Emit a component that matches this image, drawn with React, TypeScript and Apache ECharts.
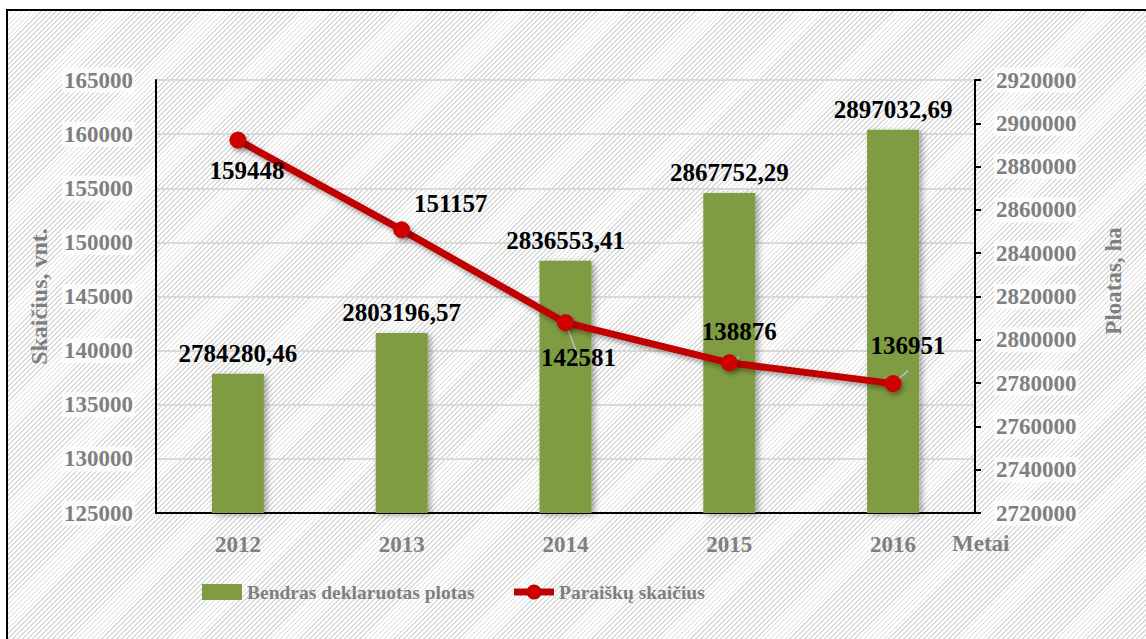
import React, { useEffect, useRef } from "react";
import * as echarts from "echarts";

const years = ["2012", "2013", "2014", "2015", "2016"];
const areaValues = [2784280.46, 2803196.57, 2836553.41, 2867752.29, 2897032.69];
const countValues = [159448, 151157, 142581, 138876, 136951];
const areaLabels = ["2784280,46", "2803196,57", "2836553,41", "2867752,29", "2897032,69"];
const countLabelOffsets: [string, number, number, boolean][] = [
  ["bottom", 9, 4, false],
  ["top", 49, 0, false],
  ["bottom", 13, 9, true],
  ["top", 10, -5, true],
  ["top", 15, -12, true],
];

const FONT = '"Liberation Serif", "Times New Roman", serif';
const GRAY = "#7f7f7f";

export default function App() {
  const ref = useRef<HTMLDivElement>(null);

  useEffect(() => {
    if (!ref.current) return;
    const chart = echarts.init(ref.current, undefined, { renderer: "svg" });
    const labelBg = "rgba(255,255,255,0.75)";
    chart.setOption({
      animation: false,
      backgroundColor: "transparent",
      textStyle: { fontFamily: FONT },
      grid: { left: 156, right: 171, top: 80, bottom: 126, containLabel: false },
      legend: {
        left: 197,
        top: 577,
        itemWidth: 40,
        itemHeight: 16,
        itemGap: 36,
        textStyle: { fontFamily: FONT, fontWeight: "bold", fontSize: 19.5, color: GRAY },
        data: [
          { name: "Bendras deklaruotas plotas", icon: "rect", itemStyle: { shadowBlur: 0, shadowOffsetX: 0, shadowOffsetY: 0 } },
          { name: "Paraiškų skaičius", lineStyle: { width: 7, shadowBlur: 0, shadowOffsetX: 0, shadowOffsetY: 0 } },
        ],
      },
      xAxis: {
        type: "category",
        data: years,
        axisLine: { lineStyle: { color: "#000", width: 2 } },
        axisTick: { show: false },
        axisLabel: {
          color: GRAY,
          fontFamily: FONT,
          fontWeight: "bold",
          fontSize: 23,
          margin: 20,
        },
      },
      yAxis: [
        {
          type: "value",
          min: 125000,
          max: 165000,
          interval: 5000,
          position: "left",
          name: "Skaičius, vnt.",
          nameLocation: "middle",
          nameRotate: 90,
          nameGap: 104,
          nameTextStyle: { color: GRAY, fontFamily: FONT, fontWeight: "bold", fontSize: 24 },
          axisLine: { show: true, lineStyle: { color: "#000", width: 2 } },
          axisTick: { show: false },
          splitLine: { show: true, lineStyle: { color: "#d9d9d9", width: 2 } },
          axisLabel: {
            color: GRAY,
            fontFamily: FONT,
            fontWeight: "bold",
            fontSize: 23,
            margin: 21,
            formatter: (v: number) => String(v),
            backgroundColor: labelBg,
            padding: [1, 2],
          },
        },
        {
          type: "value",
          min: 2720000,
          max: 2920000,
          interval: 20000,
          position: "right",
          axisLine: { show: true, lineStyle: { color: "#000", width: 2 } },
          axisTick: { show: true, length: 6, lineStyle: { color: "#000", width: 2 } },
          splitLine: { show: false },
          axisLabel: {
            color: GRAY,
            fontFamily: FONT,
            fontWeight: "bold",
            fontSize: 23,
            margin: 19,
            formatter: (v: number) => String(v),
            backgroundColor: labelBg,
            padding: [1, 2],
          },
        },
      ],
      graphic: [
        {
          type: "text",
          left: 952,
          top: 532,
          style: {
            text: "Metai",
            fill: GRAY,
            font: `bold 23px ${FONT}`,
          },
        },
        {
          type: "text",
          x: 1113,
          y: 281,
          rotation: Math.PI / 2,
          style: {
            text: "Ploatas, ha",
            fill: GRAY,
            font: `bold 23px ${FONT}`,
            align: "center",
            verticalAlign: "middle",
          },
        },
      ],
      series: [
        {
          name: "Bendras deklaruotas plotas",
          type: "bar",
          yAxisIndex: 1,
          barWidth: 52,
          data: areaValues.map((v, i) => ({
            value: v,
            label: { formatter: areaLabels[i] },
          })),
          itemStyle: {
            color: "#7f9c42",
            shadowColor: "rgba(0,0,0,0.35)",
            shadowBlur: 6,
            shadowOffsetX: 3,
            shadowOffsetY: 2,
          },
          label: {
            show: true,
            position: "top",
            distance: 8,
            color: "#000",
            fontFamily: FONT,
            fontWeight: "bold",
            fontSize: 25,
          },
          z: 2,
        },
        {
          name: "Paraiškų skaičius",
          type: "line",
          yAxisIndex: 0,
          symbol: "circle",
          symbolSize: 16,
          data: countValues.map((v, i) => ({
            value: v,
            label: {
              position: countLabelOffsets[i][0],
              offset: [countLabelOffsets[i][1], countLabelOffsets[i][2]],
            },
            labelLine: { show: countLabelOffsets[i][3] },
          })),
          lineStyle: {
            color: "#c00000",
            width: 7,
            shadowColor: "rgba(0,0,0,0.35)",
            shadowBlur: 5,
            shadowOffsetX: 2,
            shadowOffsetY: 3,
          },
          itemStyle: {
            color: "#d00000",
            borderColor: "#c00000",
            borderWidth: 1,
            shadowColor: "rgba(0,0,0,0.35)",
            shadowBlur: 5,
            shadowOffsetX: 2,
            shadowOffsetY: 3,
          },
          label: {
            show: true,
            color: "#000",
            fontFamily: FONT,
            fontWeight: "bold",
            fontSize: 25,
          },
          labelLine: {
            show: false,
            lineStyle: { color: "#bfbfbf", width: 1.5 },
          },
          z: 3,
        },
      ],
    });
    return () => chart.dispose();
  }, []);

  return (
    <div
      style={{
        position: "fixed",
        left: 0,
        top: 0,
        width: 1146,
        height: 639,
        overflow: "hidden",
        background: "#fff",
      }}
    >
      <div
        style={{
          position: "absolute",
          left: 6,
          top: 9,
          width: 1146,
          height: 640,
          border: "2px solid #000",
          backgroundColor: "#fff",
          backgroundImage:
            "repeating-linear-gradient(135deg, #ffffff 0px, #ffffff 2.3px, #dadada 2.3px, #dadada 3.5px)",
        }}
      />
      <div
        ref={ref}
        style={{ position: "absolute", left: 0, top: 0, width: 1146, height: 639 }}
      />
    </div>
  );
}
